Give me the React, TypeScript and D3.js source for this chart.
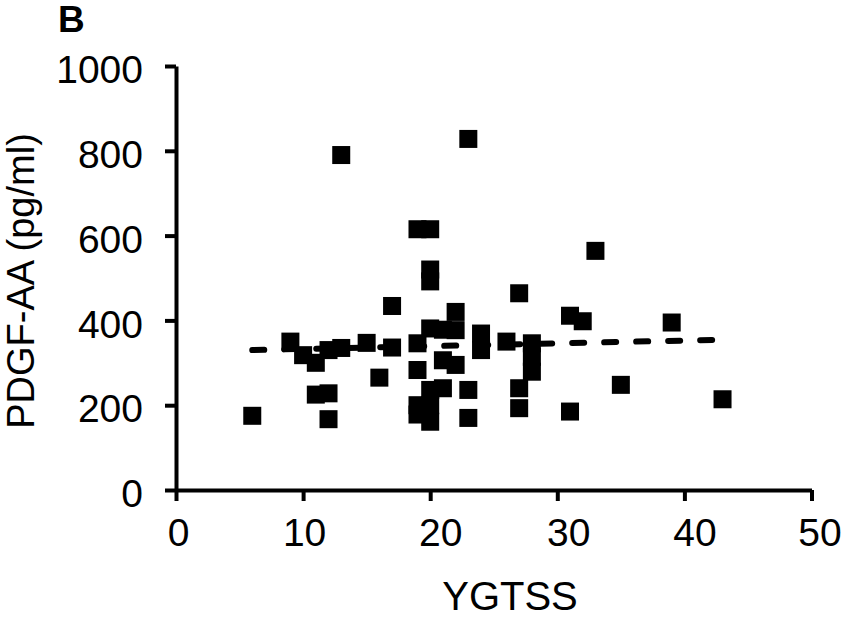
import * as d3 from "d3";
import { useRef, useEffect } from "react";

// YGTSS score vs PDGF-AA (pg/ml)
const ygtss = [
  6, 9, 10, 11, 11, 12, 12, 12, 13, 13, 15, 16, 17, 17, 19, 19, 19, 19, 19, 20,
  20, 20, 20, 20, 20, 20, 21, 21, 21, 22, 22, 22, 23, 23, 23, 24, 24, 26, 27, 27,
  27, 28, 28, 28, 31, 31, 32, 33, 35, 39, 43,
];
const pdgf = [
  175, 350, 318, 300, 225, 330, 228, 167, 790, 335, 347, 265, 434, 336, 615, 346,
  283, 200, 178, 615, 520, 492, 381, 236, 200, 161, 378, 306, 240, 420, 377, 295,
  828, 236, 170, 369, 330, 350, 464, 240, 193, 346, 314, 279, 411, 185, 398, 564,
  248, 395, 214,
];

// dashed fit line, end points as drawn
const trendX = [6, 42.3];
const trendY = [330, 354];

const xTicks = [0, 10, 20, 30, 40, 50];
const yTicks = [0, 200, 400, 600, 800, 1000];
// the x tick labels in the original sit a little right of their ticks
const xLabelShift = [2, 1, 10, 11, 10, 8];

export default function App() {
  const width = 843;
  const height = 618;
  const marginLeft = 176;
  const marginRight = 31.5;
  const marginTop = 66;
  const marginBottom = 128;

  const gx = useRef<SVGGElement>(null);
  const gy = useRef<SVGGElement>(null);

  const x = d3.scaleLinear().domain([0, 50]).range([marginLeft, width - marginRight]);
  const y = d3.scaleLinear().domain([0, 1000]).range([height - marginBottom, marginTop]);

  const line = d3
    .line<number>()
    .x((d) => x(d))
    .y((_, i) => y(trendY[i]));

  useEffect(() => {
    document.body.style.margin = "0";
  }, []);

  useEffect(() => {
    if (gx.current) {
      const g = d3.select(gx.current);
      g.selectAll("*").remove();
      g.call(
        d3.axisBottom(x).tickValues(xTicks).tickSize(11).tickSizeOuter(0).tickPadding(17).tickFormat(d3.format("d"))
      );
      g.select(".domain").attr("stroke-width", 4);
      g.selectAll(".tick line").attr("stroke-width", 4);
      g.selectAll<SVGTextElement, number>(".tick text")
        .attr("dx", (_, i) => xLabelShift[i])
        .attr("font-size", 39)
        .attr("font-family", "'Liberation Sans', Arial, sans-serif")
        .attr("fill", "#000");
    }
  }, [x]);

  useEffect(() => {
    if (gy.current) {
      const g = d3.select(gy.current);
      g.selectAll("*").remove();
      g.call(
        d3.axisLeft(y).tickValues(yTicks).tickSize(11).tickSizeOuter(0).tickPadding(22).tickFormat(d3.format("d"))
      );
      g.select(".domain").attr("stroke-width", 4);
      g.selectAll(".tick line").attr("stroke-width", 4);
      g.selectAll(".tick text")
        .attr("font-size", 39)
        .attr("dy", "0.43em")
        .attr("font-family", "'Liberation Sans', Arial, sans-serif")
        .attr("fill", "#000");
    }
  }, [y]);

  const size = 18;

  return (
    <svg width={width} height={height} style={{ display: "block", background: "#fff" }}>
      <text x={58} y={32} fontSize={37} fontWeight="bold" fontFamily="'Liberation Sans', Arial, sans-serif">
        B
      </text>
      <g ref={gx} transform={`translate(0,${height - marginBottom})`} />
      <g ref={gy} transform={`translate(${marginLeft},0)`} />
      <g>
        {ygtss.map((v, i) => (
          <rect key={i} x={x(v) - size / 2} y={y(pdgf[i]) - size / 2} width={size} height={size} fill="#000" />
        ))}
      </g>
      <path
        d={line(trendX) ?? ""}
        fill="none"
        stroke="#000"
        strokeWidth={6}
        strokeLinecap="round"
        strokeDasharray="12 20"
      />
      <text
        transform={`translate(34,281) rotate(-90)`}
        textAnchor="middle"
        fontSize={38}
        fontFamily="'Liberation Sans', Arial, sans-serif"
      >
        PDGF-AA (pg/ml)
      </text>
      <text x={510} y={610} textAnchor="middle" fontSize={40} fontFamily="'Liberation Sans', Arial, sans-serif">
        YGTSS
      </text>
    </svg>
  );
}
